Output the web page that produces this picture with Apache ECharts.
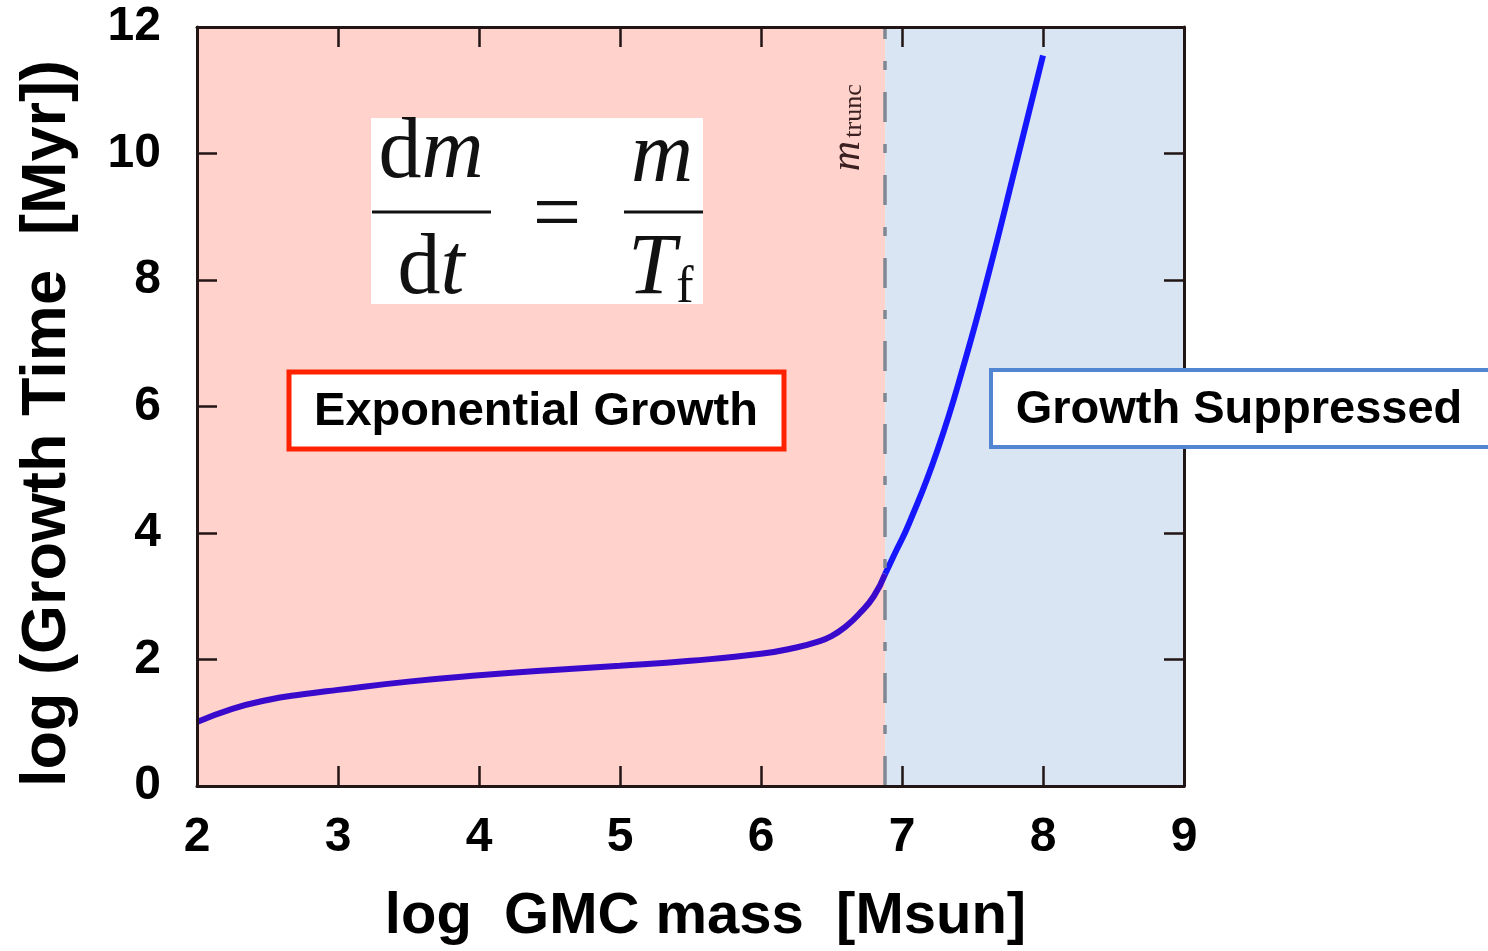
<!DOCTYPE html>
<html>
<head>
<meta charset="utf-8">
<script src="https://cdn.jsdelivr.net/npm/echarts@6/dist/echarts.min.js"></script>
<style>
html,body{margin:0;padding:0;background:#fff;}
#chart{width:1488px;height:951px;}
</style>
</head>
<body>
<div id="chart"></div>
<script>
// ---- data ----
const massLog = [2.0, 2.25, 2.5, 2.75, 3.0, 3.5, 4.0, 4.5, 5.0, 5.5, 6.0, 6.25, 6.4, 6.5, 6.6, 6.7, 6.8, 6.88, 6.95, 7.05, 7.25, 7.45, 7.62, 7.8, 8.0];
const growthLog = [1.01, 1.22, 1.36, 1.45, 1.52, 1.65, 1.75, 1.83, 1.90, 1.98, 2.09, 2.19, 2.28, 2.37, 2.52, 2.73, 3.0, 3.35, 3.68, 4.15, 5.3, 6.75, 8.15, 9.75, 11.55];
const truncMass = 6.88;
const xRange = [2, 9];
const yRange = [0, 12];
const regionLabels = ['Exponential Growth', 'Growth Suppressed'];
const xTitle = 'log  GMC mass  [Msun]';
const yTitle = 'log (Growth Time  [Myr])';

const curve = massLog.map((m, i) => [m, growthLog[i]]);
const curveLow = curve.filter(p => p[0] <= truncMass);
const curveHigh = curve.filter(p => p[0] >= truncMass);
const chart = echarts.init(document.getElementById('chart'));
const axisColor = '#221515';
const sans = 'Liberation Sans, Arial, sans-serif';
const serif = 'Liberation Serif, DejaVu Serif, serif';

function baseAxis(extra) {
  return Object.assign({
    type: 'value',
    z: 10,
    splitLine: { show: false },
    axisLine: { show: true, onZero: false, lineStyle: { color: axisColor, width: 3 } },
    axisTick: { show: true, inside: true, length: 20, lineStyle: { color: axisColor, width: 2.5 } }
  }, extra);
}

const option = {
  backgroundColor: '#ffffff',
  animation: false,
  grid: { left: 197, top: 27, right: 304, bottom: 162, containLabel: false },
  xAxis: [
    baseAxis({
      min: xRange[0], max: xRange[1], interval: 1, position: 'bottom',
      axisLabel: { fontSize: 48, fontWeight: 'bold', color: '#000', fontFamily: sans, margin: 28 },
      name: xTitle, nameLocation: 'middle', nameGap: 102,
      nameTextStyle: { fontSize: 58, fontWeight: 'bold', color: '#000', fontFamily: sans, padding: [0, 0, 0, 30] }
    }),
    baseAxis({
      min: xRange[0], max: xRange[1], interval: 1, position: 'top',
      axisLabel: { show: false }
    })
  ],
  yAxis: [
    baseAxis({
      min: yRange[0], max: yRange[1], interval: 2, position: 'left',
      axisLabel: { fontSize: 48, fontWeight: 'bold', color: '#000', fontFamily: sans, margin: 36 },
      name: yTitle, nameLocation: 'middle', nameGap: 118, nameRotate: 90,
      nameTextStyle: { fontSize: 63, fontWeight: 'bold', color: '#000', fontFamily: sans, padding: [0, 34, 0, 0] }
    }),
    baseAxis({
      min: yRange[0], max: yRange[1], interval: 2, position: 'right',
      axisLabel: { show: false }
    })
  ],
  series: [
    {
      type: 'line', data: [], z: 1, silent: true,
      markArea: {
        silent: true,
        data: [
          [{ xAxis: xRange[0], yAxis: yRange[0], itemStyle: { color: '#ffd2cc' } }, { xAxis: truncMass, yAxis: yRange[1] }],
          [{ xAxis: truncMass, yAxis: yRange[0], itemStyle: { color: '#dae5f3' } }, { xAxis: xRange[1], yAxis: yRange[1] }]
        ]
      }
    },
    {
      type: 'line', data: [], z: 3, silent: true,
      markLine: {
        silent: true, symbol: ['none', 'none'], label: { show: false },
        lineStyle: { color: '#7e8893', width: 3.5, type: [30, 22, 9, 22] },
        data: [{ xAxis: truncMass }]
      }
    },
    {
      type: 'line', data: curveLow, z: 4, smooth: 0.5, showSymbol: false,
      lineStyle: { width: 6, color: '#3a0acc' }
    },
    {
      type: 'line', data: curveHigh, z: 4, smooth: 0.5, showSymbol: false,
      lineStyle: { width: 6, color: '#1616ff' }
    }
  ],
  graphic: [
    // equation box
    { type: 'rect', z: 100, shape: { x: 371, y: 118, width: 332, height: 186 }, style: { fill: '#ffffff' } },
    { type: 'text', z: 101, style: { x: 431, y: 154, text: '{u|d}{i|m}', textAlign: 'center', textVerticalAlign: 'middle',
      rich: { u: { fontFamily: serif, fontSize: 86, fill: '#111' }, i: { fontFamily: serif, fontSize: 86, fontStyle: 'italic', fill: '#111' } } } },
    { type: 'line', z: 101, shape: { x1: 372, y1: 212, x2: 491, y2: 212 }, style: { stroke: '#111', lineWidth: 3 } },
    { type: 'text', z: 101, style: { x: 431, y: 270, text: '{u|d}{i|t}', textAlign: 'center', textVerticalAlign: 'middle',
      rich: { u: { fontFamily: serif, fontSize: 86, fill: '#111' }, i: { fontFamily: serif, fontSize: 86, fontStyle: 'italic', fill: '#111' } } } },
    { type: 'text', z: 101, style: { x: 557, y: 218, text: '=', textAlign: 'center', textVerticalAlign: 'middle', fontFamily: serif, fontSize: 86, fill: '#111' } },
    { type: 'text', z: 101, style: { x: 662, y: 158, text: 'm', textAlign: 'center', textVerticalAlign: 'middle', fontFamily: serif, fontSize: 86, fontStyle: 'italic', fill: '#111' } },
    { type: 'line', z: 101, shape: { x1: 624, y1: 212, x2: 703, y2: 212 }, style: { stroke: '#111', lineWidth: 3 } },
    { type: 'text', z: 101, style: { x: 652, y: 270, text: 'T', textAlign: 'center', textVerticalAlign: 'middle', fontFamily: serif, fontSize: 86, fontStyle: 'italic', fill: '#111' } },
    { type: 'text', z: 101, style: { x: 685, y: 288, text: 'f', textAlign: 'center', textVerticalAlign: 'middle', fontFamily: serif, fontSize: 52, fill: '#111' } },
    // m_trunc label
    { type: 'text', z: 101, x: 848, y: 156, rotation: Math.PI / 2,
      style: { x: 0, y: 0, text: 'm', textAlign: 'center', textVerticalAlign: 'middle', fontFamily: serif, fontSize: 42, fontStyle: 'italic', fill: '#3a2020' } },
    { type: 'text', z: 101, x: 854, y: 111, rotation: Math.PI / 2,
      style: { x: 0, y: 0, text: 'trunc', textAlign: 'center', textVerticalAlign: 'middle', fontFamily: serif, fontSize: 26, fill: '#3a2020' } },
    // region boxes
    { type: 'rect', z: 100, shape: { x: 289, y: 372, width: 495, height: 77 }, style: { fill: '#ffffff', stroke: '#ff2200', lineWidth: 5 } },
    { type: 'text', z: 101, style: { x: 536, y: 412, text: regionLabels[0], textAlign: 'center', textVerticalAlign: 'middle', fontFamily: sans, fontWeight: 'bold', fontSize: 47, fill: '#000' } },
    { type: 'rect', z: 100, shape: { x: 991, y: 370, width: 540, height: 77 }, style: { fill: '#ffffff', stroke: '#5286d2', lineWidth: 4 } },
    { type: 'text', z: 101, style: { x: 1239, y: 410, text: regionLabels[1], textAlign: 'center', textVerticalAlign: 'middle', fontFamily: sans, fontWeight: 'bold', fontSize: 47, fill: '#000' } }
  ]
};
chart.setOption(option);
</script>
</body>
</html>
